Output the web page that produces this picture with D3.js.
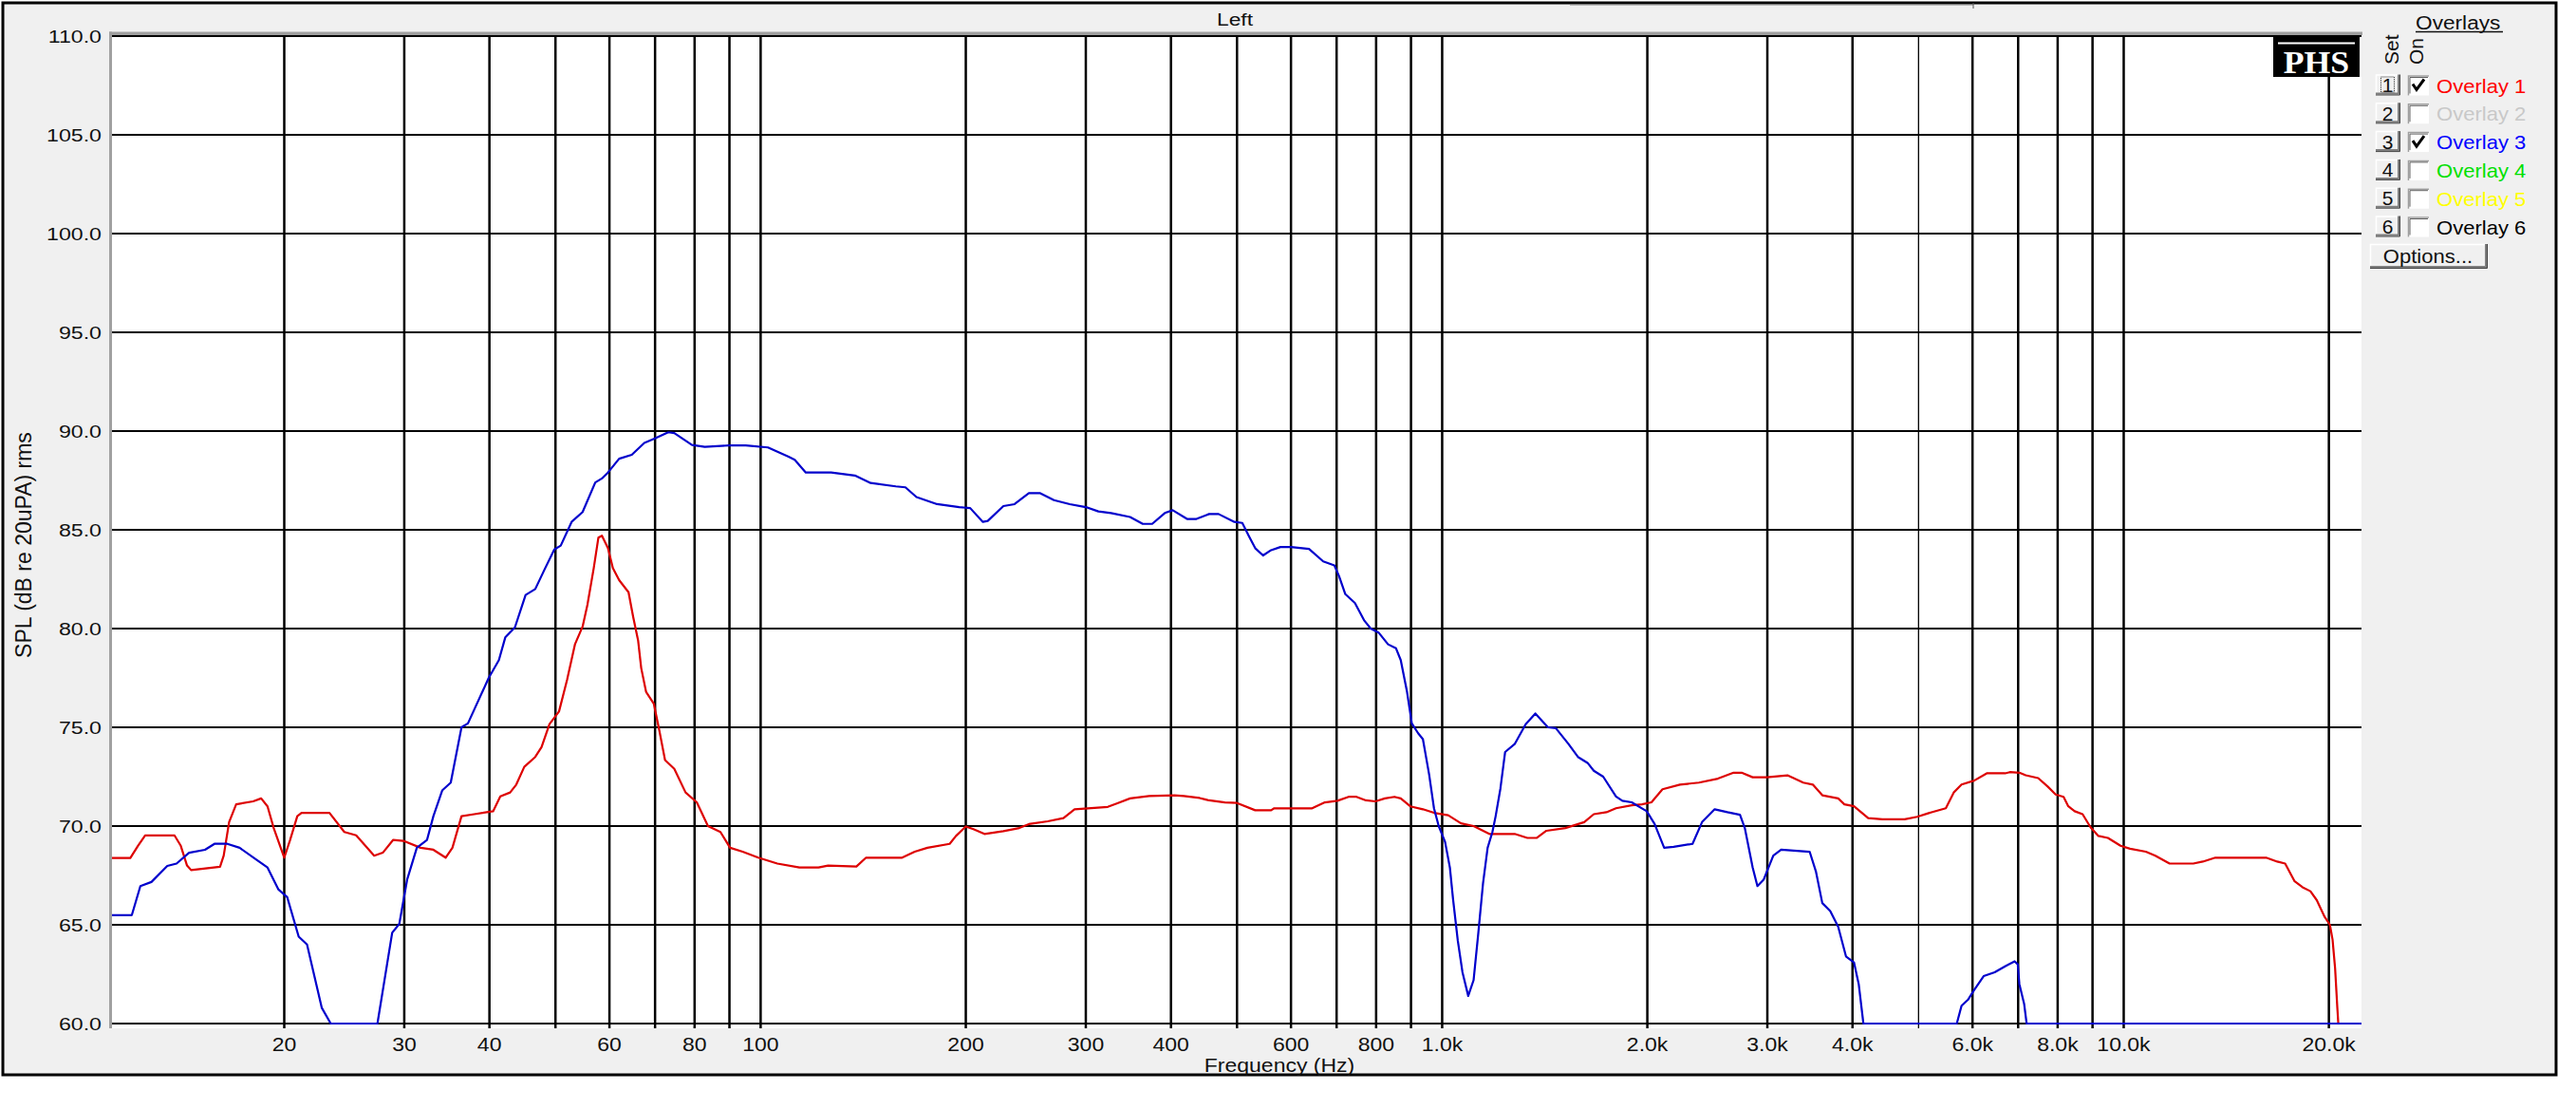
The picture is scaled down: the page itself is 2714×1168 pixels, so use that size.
<!DOCTYPE html>
<html><head><meta charset="utf-8">
<script src="https://cdn.jsdelivr.net/npm/d3@7"></script>
<style>body{margin:0;background:#fff}svg{display:block}</style>
</head><body><svg id="c" width="2714" height="1168"></svg>
<script>
// ---------- data ----------
const redFreq=[11.14,11.89,12.2,12.5,13.8,14.1,14.4,14.6,16.1,16.3,16.6,17.0,18.0,18.5,18.9,19.3,20.0,20.4,20.9,21.2,23.3,24.5,25.5,27.1,27.9,28.9,29.9,31.7,33.1,34.5,35.3,36.4,38.0,40.5,
41.5,42.9,43.8,45.0,46.7,47.7,49.0,50.6,52.0,53.4,54.8,55.7,56.9,57.8,58.5,59.7,60.7,62.0,64.0,65.0,66.1,66.8,67.9,69.7,70.9,72.4,74.7,77.6,80.6,83.7,87.3,90.2,94.1,99.2,105.8,114.0,121.6,125.6,138.2,142.8,
161.3,168.3,175.7,189.4,193.5,200,205.2,213,227.1,239.6,247.5,263.8,278.2,288.8,323.1,333.8,348.4,371.5,404.6,417.8,440.6,455,480,500,
531.7,561,567,644.5,672.7,702,728.9,748.6,772.9,798,824,851,869.4,897.7,937,972.7,1020.6,1065.5,1112,1172.6,1277.5,1333.6,1377,1422,1516,1616,1669,1742,1799,1897,
1964,2028,2105,2233,2381,2538,2677,2750,2855,2996,3211,3387,3498,3612,3811,3892,4020,4218,4425,4770,4977,5224,5483,5631,5782,6034,6296,
6698,6807,7029,7181,7491,7735,7945,8161,8293,8472,8703,8939,9180,9480,9894,10216,10777,11128,11676,12649,13062,13632,16180,16798,17253,17815,18298,18790,19197,19717,20070,20250,20425,20580,20647];
const redDb=[68.38,68.38,69.0,69.53,69.53,69.0,68.0,67.77,67.94,68.5,70.2,71.1,71.25,71.4,71.0,69.9,68.4,69.3,70.5,70.67,70.67,69.7,69.53,68.5,68.65,69.3,69.25,68.9,68.8,68.4,68.9,70.5,70.6,70.75,
71.5,71.7,72.1,73.0,73.5,74.0,75.16,75.8,77.4,79.2,80.1,81.2,83.06,84.6,84.7,84.07,83.06,82.45,81.84,80.6,79.4,78.0,76.8,76.2,74.96,73.34,72.9,71.7,71.2,70.0,69.7,68.9,68.7,68.4,68.1,67.9,67.9,68.0,67.95,68.4,
68.4,68.7,68.9,69.1,69.5,69.98,69.84,69.6,69.74,69.9,70.1,70.24,70.4,70.85,70.97,71.15,71.4,71.52,71.56,71.52,71.42,71.3,71.2,71.17,
70.8,70.8,70.9,70.9,71.2,71.28,71.48,71.48,71.3,71.25,71.4,71.48,71.4,71.0,70.85,70.67,70.55,70.14,70.0,69.6,69.6,69.4,69.4,69.76,69.9,70.2,70.6,70.7,70.9,71.05,
71.1,71.2,71.86,72.1,72.2,72.4,72.7,72.7,72.47,72.47,72.57,72.2,72.1,71.56,71.4,71.1,71.0,70.4,70.34,70.34,70.47,70.7,70.9,71.7,72.1,72.3,72.67,
72.67,72.73,72.7,72.57,72.43,72.0,71.6,71.48,71.0,70.75,70.6,69.94,69.5,69.4,69.0,68.85,68.7,68.5,68.1,68.1,68.2,68.4,68.4,68.2,68.1,67.2,66.9,66.7,66.25,65.4,65.0,64.25,62.8,60.8,60];

const blueFreq=[11.13,11.95,12.3,12.77,13.47,13.9,14.5,15.3,15.8,16.5,17.2,18.2,18.9,19.6,20.2,21.0,21.6,22.7,23.4,27.4,28.8,29.5,30.3,31.3,32.4,33.1,34.1,35.1,36.4,37.2,39.9,
41.3,42.2,43.6,45.2,46.7,48.2,49.8,50.9,52.8,54.8,57.2,58.5,59.7,62.0,64.7,67.5,69.7,73.2,74.7,79.3,82.8,89.8,95.1,102.5,109.9,112.2,116.5,126.9,137.5,
145,157.9,163.1,169.3,181.5,195.6,203,211.9,215.4,227.1,235.8,247.5,256.8,269.4,284.2,300,313,326.7,348.4,363.6,375.4,391.8,402.4,422.3,436,455,469.8,495.6,509,
520.6,531.7,546,561,579,600,637.7,669,694.8,705.9,721,744.6,768.8,785.5,806.6,833,855.6,869.4,888,902.5,922,937,957,972.7,988.4,1009.8,1026.4,1037.4,1054.2,1071,1092,1112,1130,1148,1166,1185,1198,1217.5,1237,1277.5,1326,1370,1429.5,1468,1532.6,1582,1634,1669,1723,1799,1838,1897,
1996,2050,2117,2186,2330,2406,2511,2621,2735,2780,2855,2901,2964,3061,3143,3461,3535,3612,3710,3811,3913,4020,4085,4150,5690,5782,5907,6034,6230,6467,
6698,6917,6991,7029,7143,7204,22330];
const blueDb=[65.49,65.49,66.96,67.17,67.98,68.1,68.65,68.8,69.1,69.1,68.9,68.3,67.9,66.8,66.4,64.4,64.0,60.8,60,60,64.6,65.05,67.3,68.9,69.3,70.5,71.8,72.2,75.0,75.2,77.5,
78.4,79.55,80.06,81.7,82.0,83.0,84.0,84.2,85.4,85.9,87.4,87.6,87.9,88.6,88.8,89.4,89.6,89.94,89.9,89.3,89.2,89.27,89.27,89.17,88.7,88.55,87.9,87.9,87.75,
87.37,87.2,87.15,86.66,86.3,86.15,86.1,85.4,85.45,86.2,86.3,86.86,86.86,86.5,86.3,86.15,85.93,85.85,85.65,85.3,85.3,85.85,85.99,85.55,85.55,85.8,85.8,85.4,85.35,
84.68,84.07,83.7,83.97,84.13,84.13,84.03,83.4,83.2,82.65,81.74,81.3,80.4,80.0,79.8,79.2,79.0,78.4,76.8,75.2,74.7,74.4,72.6,70.9,70.0,69.2,67.9,66.3,64.2,62.6,61.4,62.2,64.6,67.1,68.9,69.7,70.5,71.9,73.75,74.15,75.16,75.7,75.0,74.96,74.15,73.5,73.2,72.8,72.5,71.5,71.28,71.2,
70.75,70.1,68.9,68.95,69.1,70.2,70.85,70.7,70.57,69.9,67.9,66.96,67.3,68.5,68.8,68.7,67.7,66.1,65.7,64.9,63.4,63.1,62.0,60,60,60.9,61.2,61.7,62.4,62.6,
62.9,63.15,63.0,62.0,61.0,60,60];

const gridFreqs=[20,30,40,50,60,70,80,90,100,200,300,400,500,600,700,800,900,1000,2000,3000,4000,5000,6000,7000,8000,9000,10000,20000];
const xLabelFreqs=[20,30,40,60,80,100,200,300,400,600,800,1000,2000,3000,4000,6000,8000,10000,20000];
const xLabelTexts=["20","30","40","60","80","100","200","300","400","600","800","1.0k","2.0k","3.0k","4.0k","6.0k","8.0k","10.0k","20.0k"];
const yTicks=[60,65,70,75,80,85,90,95,100,105,110];
const yLabelTexts=["60.0","65.0","70.0","75.0","80.0","85.0","90.0","95.0","100.0","105.0","110.0"];
const overlayNames=["Overlay 1","Overlay 2","Overlay 3","Overlay 4","Overlay 5","Overlay 6"];
const overlayColors=["#ff0000","#c8c8c8","#0000ff","#00e000","#ffff00","#000000"];
const overlayOn=[true,false,true,false,false,false];
const titleText="Left", xTitle="Frequency (Hz)", yTitle="SPL (dB re 20uPA) rms";

// ---------- drawing ----------
const SANS="'Liberation Sans',Arial,sans-serif";
const SERIF="'Liberation Serif','Times New Roman',serif";
const svg=d3.select("#c");
const pL=117,pR=2488,pT=38,pB=1078,pWhiteB=1083;
const x=d3.scaleLog().domain([11.14,22330]).range([pL,pR]);
const y=d3.scaleLinear().domain([60,110]).range([pB,pT]);

function txt(g,px,py,s,o){
  const t=g.append("text").attr("transform",`translate(${px},${py}) scale(${o.sx||1},1)`)
   .attr("font-size",o.size).attr("text-anchor",o.anchor||"start").attr("fill",o.fill||"#000")
   .style("font-family",o.family||SANS).text(s);
  if(o.weight)t.attr("font-weight",o.weight);
  return t;
}

// frame
svg.append("rect").attr("x",3).attr("y",3).attr("width",2690).attr("height",1129).attr("fill","#f0f0f0").attr("stroke","#000").attr("stroke-width",3);
svg.append("line").attr("x1",1654).attr("x2",2079).attr("y1",5.5).attr("y2",5.5).attr("stroke","#b8b8b8").attr("stroke-width",1);
svg.append("line").attr("x1",2079).attr("x2",2079).attr("y1",3).attr("y2",9).attr("stroke","#555").attr("stroke-width",1);

// plot area
svg.append("rect").attr("x",pL).attr("y",pT).attr("width",pR-pL).attr("height",pWhiteB-pT).attr("fill","#fff");
svg.append("rect").attr("x",pL-2).attr("y",pT-4.5).attr("width",pR-pL+3).attr("height",3.5).attr("fill","#a0a0a0");
svg.append("rect").attr("x",pL-2).attr("y",pT-4.5).attr("width",3).attr("height",pWhiteB-pT+4.5).attr("fill","#a0a0a0");

const grid=svg.append("g");
grid.selectAll("line.h").data(yTicks).join("line").attr("class","h")
  .attr("x1",pL+1).attr("x2",pR).attr("y1",d=>y(d)).attr("y2",d=>y(d)).attr("stroke","#000").attr("stroke-width",2.2);
grid.selectAll("line.v").data(gridFreqs).join("line").attr("class","v")
  .attr("x1",d=>x(d)).attr("x2",d=>x(d)).attr("y1",pT).attr("y2",pWhiteB).attr("stroke","#000").attr("stroke-width",d=>d===5000?1.3:2.5);

// curves
svg.append("clipPath").attr("id","pc").append("rect").attr("x",pL+1).attr("y",pT).attr("width",pR-pL-1).attr("height",pB-pT+1);
const line=d3.line().x(d=>x(d[0])).y(d=>y(Math.max(60,d[1])));
const curves=svg.append("g").attr("clip-path","url(#pc)");
curves.append("path").datum(redFreq.map((f,i)=>[f,redDb[i]])).attr("d",line).attr("fill","none").attr("stroke","#dd0000").attr("stroke-width",2.2).attr("stroke-linejoin","round");
curves.append("path").datum(blueFreq.map((f,i)=>[f,blueDb[i]])).attr("d",line).attr("fill","none").attr("stroke","#0000cc").attr("stroke-width",2.2).attr("stroke-linejoin","round");

// labels
const gy=svg.append("g");
yTicks.forEach((v,i)=>txt(gy,107,y(v)+7,yLabelTexts[i],{size:19,anchor:"end",sx:1.22,fill:"#111"}));
const gx=svg.append("g");
xLabelFreqs.forEach((f,i)=>txt(gx,x(f),1107,xLabelTexts[i],{size:20,anchor:"middle",sx:1.15,fill:"#111"}));
txt(svg,1348,1129,xTitle,{size:20,anchor:"middle",sx:1.15,fill:"#111"});
txt(svg,1301,27,titleText,{size:19,anchor:"middle",sx:1.2,fill:"#111"});
svg.append("text").attr("transform","translate(33,574) rotate(-90)").attr("font-size",23).attr("text-anchor","middle").attr("fill","#111").style("font-family",SANS).text(yTitle);

// PHS logo
svg.append("rect").attr("x",2395).attr("y",39).attr("width",91).attr("height",42).attr("fill","#000");
svg.append("line").attr("x1",2400).attr("x2",2481).attr("y1",45.5).attr("y2",45.5).attr("stroke","#fff").attr("stroke-width",2);
txt(svg,2440.5,77,"PHS",{size:34,anchor:"middle",fill:"#fff",weight:"bold",family:SERIF,sx:1.05});

// legend panel
const lg=svg.append("g");
txt(lg,2545,31,"Overlays",{size:21,fill:"#111",sx:1.08});
lg.append("line").attr("x1",2545).attr("x2",2637).attr("y1",33.5).attr("y2",33.5).attr("stroke","#111").attr("stroke-width",1.5);
lg.append("text").attr("transform","translate(2527,68) rotate(-90)").attr("font-size",21).attr("fill","#111").style("font-family",SANS).text("Set");
lg.append("text").attr("transform","translate(2553,68) rotate(-90)").attr("font-size",21).attr("fill","#111").style("font-family",SANS).text("On");
function bevel(g,bx,by,bw,bh){
  g.append("rect").attr("x",bx).attr("y",by).attr("width",bw).attr("height",bh).attr("fill","#f0f0f0");
  g.append("path").attr("d",`M${bx+0.5},${by+bh}V${by+0.5}H${bx+bw}`).attr("stroke","#fff").attr("stroke-width",1.5).attr("fill","none");
  g.append("path").attr("d",`M${bx+bw-1},${by}V${by+bh-1}H${bx}`).attr("stroke","#808080").attr("stroke-width",2).attr("fill","none");
  g.append("path").attr("d",`M${bx+bw+0.5},${by}V${by+bh+0.5}H${bx}`).attr("stroke","#404040").attr("stroke-width",1).attr("fill","none");
}
overlayNames.forEach((n,i)=>{
  const cy=89.5+i*29.8;
  bevel(lg,2503,cy-11,25,21);
  txt(lg,2515.5,cy+7.5,String(i+1),{size:21,anchor:"middle",fill:"#111"});
  if(i===0) lg.append("rect").attr("x",2508.5).attr("y",cy-8.5).attr("width",14).attr("height",16).attr("fill","none").attr("stroke","#333").attr("stroke-width",1).attr("stroke-dasharray","1,1");
  lg.append("rect").attr("x",2537).attr("y",cy-10).attr("width",22).attr("height",21).attr("fill","#fff");
  lg.append("path").attr("d",`M2537.5,${cy+11}V${cy-9.5}H2559`).attr("stroke","#a0a0a0").attr("stroke-width",1.5).attr("fill","none");
  lg.append("path").attr("d",`M2539,${cy+9}V${cy-8}H2558`).attr("stroke","#606060").attr("stroke-width",1).attr("fill","none");
  if(overlayOn[i]) lg.append("path").attr("d",`M2542,${cy-1}L2546,${cy+5}L2554,${cy-6}`).attr("stroke","#000").attr("stroke-width",3).attr("fill","none");
  txt(lg,2567,cy+8,n,{size:21,fill:overlayColors[i],sx:1.05});
});
bevel(lg,2497,257,123,25);
txt(lg,2558,277,"Options...",{size:21,anchor:"middle",fill:"#111",sx:1.05});
</script></body></html>
